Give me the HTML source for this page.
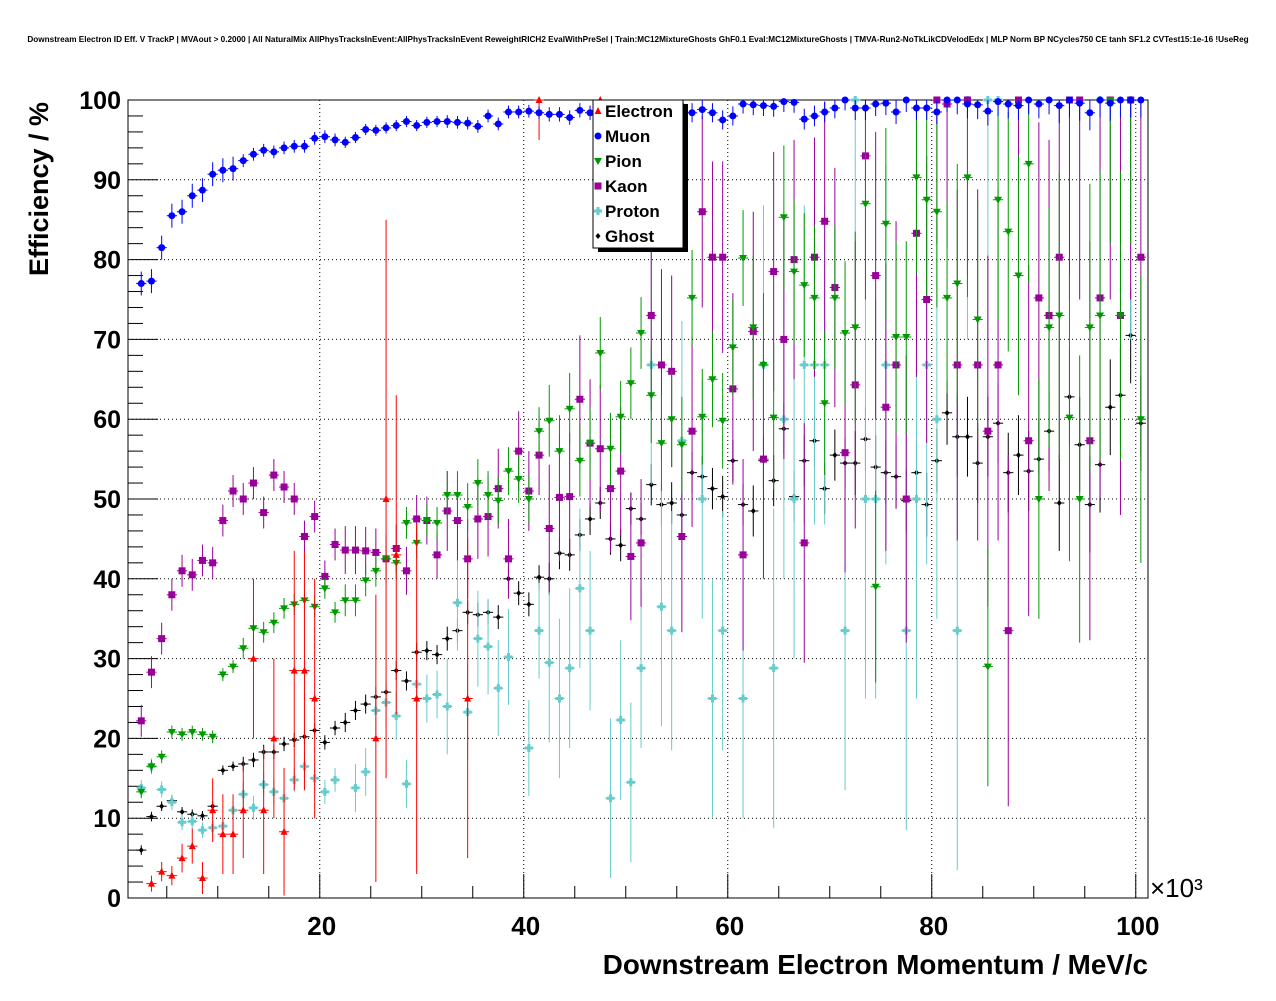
<!DOCTYPE html>
<html><head><meta charset="utf-8"><style>
body{margin:0;background:#fff;}
svg text{font-family:"Liberation Sans",sans-serif;font-weight:bold;}
</style></head><body>
<svg id="c" width="1276" height="996" xmlns="http://www.w3.org/2000/svg">
<rect width="1276" height="996" fill="#fff"/>
<text x="638" y="42" font-size="8.2" text-anchor="middle">Downstream Electron ID Eff. V TrackP | MVAout &gt; 0.2000 | All NaturalMix AllPhysTracksInEvent:AllPhysTracksInEvent ReweightRICH2 EvalWithPreSel | Train:MC12MixtureGhosts GhF0.1 Eval:MC12MixtureGhosts | TMVA-Run2-NoTkLikCDVelodEdx | MLP Norm BP NCycles750 CE tanh SF1.2 CVTest15:1e-16 !UseReg</text>
<g id="grid"></g>
<g id="axes"></g>
<g id="marks"></g>
<text x="48" y="189" font-size="27" text-anchor="middle" transform="rotate(-90 48 189)">Efficiency / %</text>
<text x="1148" y="974" font-size="27.8" text-anchor="end">Downstream Electron Momentum / MeV/c</text>
<text x="1150" y="897" font-size="26" style="font-weight:normal">×10³</text>
<g id="legend"></g>
</svg>
<script>
const xTicks=[20,40,60,80,100];
const yTicks=[0,10,20,30,40,50,60,70,80,90,100];
const binStart=2.5;
const muon=[77,77.3,81.5,85.5,86,88,88.7,90.7,91.2,91.4,92.4,93.2,93.7,93.5,94,94.2,94.2,95.2,95.4,95,94.7,95.3,96.3,96.2,96.5,96.8,97.3,96.8,97.2,97.3,97.3,97.2,97.1,96.7,98,97,98.5,98.5,98.6,98.4,98.2,98.2,97.8,98.7,98.4,98.4,98,98.5,98.3,98.5,99,99,99,99.2,98.4,98.8,98.4,97.5,98,99.5,99.4,99.3,99.2,99.8,99.7,97.6,98,98.5,99,100,99,99,99.5,99.6,98.5,100,99,99,98.5,100,100,99.5,99.4,98.6,99.8,99.5,99.3,100,99.5,100,99.3,100,99.6,98.4,100,99.6,100,100,100];
const electron=[null,1.8,3.3,2.8,5,6.5,2.5,11,8,8,11,30,11,20,8.3,28.5,28.5,25,null,null,null,null,null,20,50,43,null,25,null,null,null,null,25,null,null,null,null,null,null,100,null,null,null,null,null,100];
const electronErr=[0,1,1.2,1.2,1.8,2.2,2,4,5,5,6,10,8,10,8,15,15,15,0,0,0,0,0,18,35,20,0,22,0,0,0,0,20,0,0,0,0,0,0,5,0,0,0,0,0,5];
const ghost=[6,10.2,11.5,12.2,10.8,10.5,10.3,11.5,16,16.5,16.8,17.3,18.3,18.3,19.3,19.8,20.2,21,19.5,21.3,22,23.5,24.3,25.2,25.8,28.5,27.2,30.8,31,30.5,32.5,33.5,35.8,35.5,35.8,35.2,40,38.2,36.8,40.2,40,43.2,43,45.5,47.5,49.5,45,44.2,48.8,47.5,51.8,49.3,49.5,48,53.3,52.8,51.3,50.3,54.8,49.3,48.5,54.8,52.3,58.8,50.3,54.8,57.3,51.3,55.5,54.5,54.5,57.5,54,53.3,52.8,49.8,53.3,49.3,54.8,60.8,57.8,57.8,54.5,57.8,59.5,53.3,55.5,53.5,55,58.5,49.5,62.8,56.8,49.3,54.3,61.5,63,70.5,59.5];
const pion=[13.3,16.5,17.7,20.8,20.5,20.8,20.5,20.2,28,29,31.3,33.8,33.3,34.5,36.3,36.8,37.3,36.5,38.8,35.8,37.3,37.3,39.8,41,42.5,42,47,44.5,47.3,47,50.5,50.5,49,52,50.5,49.8,53.5,52.5,50,58.5,59.8,56,61.3,54.8,57,68.3,56.3,60.3,64.5,70.8,63,57,60,56.8,75.2,60.3,65,59.8,69,80.2,71.5,66.8,60.2,85.3,78.5,76.8,75.2,62,75.2,70.8,71.5,87,39,84.5,70.3,70.3,90.3,87.5,86,75.2,77,90.3,72.5,29,87.5,83.5,78,92,50,71.5,73,60.2,50,71.5,73,100,73,100,60];
const kaon=[22.2,28.3,32.5,38,41,40.5,42.3,42,47.3,51,50,52,48.3,53,51.5,50,45.3,47.8,40.3,44.3,43.6,43.6,43.5,43.3,42.5,43.8,41,47.5,47.3,43,48.5,47.3,42.5,47.5,47.8,51.3,42.5,56,51,55.5,46.3,50.2,50.3,62.5,57,56.3,51.3,53.5,42.8,44.5,73,66.8,66,45.3,58.5,86,80.3,80.3,63.8,43,71,55,78.5,70,80,44.5,80.3,84.8,76.5,55.8,64.3,93,78,61.5,66.8,50,83.3,75,100,99.5,66.8,100,66.8,58.5,66.8,33.5,100,57.3,75.2,73,80.3,100,100,57.3,75.2,100,73,100,80.3];
const proton=[13.8,16.5,13.6,12,9.5,9.6,8.5,8.8,9,11,13,11.3,14.2,13.3,12.5,14.8,16.5,15,13.3,14.8,null,13.8,15.8,23.5,24.5,22.8,14.3,26.8,25,25.5,24,37,23.3,32.5,31.5,26.3,30.2,null,18.8,33.5,29.5,25,28.8,38.8,33.5,null,12.5,22.3,14.5,28.8,66.8,36.5,33.5,57.3,null,50,25,33.5,null,25,null,66.8,28.8,60,50,66.8,66.8,66.8,null,33.5,100,50,50,66.8,null,33.5,50,66.8,60,null,33.5,100,null,100,100,null,null,null,null,null,null,null,null,null,100,null,null,100,null];
/* error half-widths per block of 10 bins */
const muonErrBlk=[1.5,0.8,0.7,0.8,0.9,1.2,1.3,1.5,1.8,2.2];
const ghostErrBlk=[0.6,0.9,1.2,1.5,2,2.6,3.2,4,5,6];
const pionErrBlk=[0.8,1.3,2,3,4.5,6,9,12,15,18];
const kaonErrBlk=[2,2,3,5,8,12,15,18,22,25];
const protonErrBlk=[1,1.5,3,6,10,15,20,25,30,30];

const X0=128,X1=1148,Y0=898,Y1=100,XMIN=1.2,XMAX=101.2;
const sx=v=>X0+(v-XMIN)/(XMAX-XMIN)*(X1-X0);
const sy=v=>Y0-(v/100)*(Y0-Y1);
const NS='http://www.w3.org/2000/svg';
function mk(t,a,p){const e=document.createElementNS(NS,t);for(const k in a)e.setAttribute(k,a[k]);p.appendChild(e);return e;}
const grid=document.getElementById('grid'),axes=document.getElementById('axes'),marks=document.getElementById('marks'),leg=document.getElementById('legend');
xTicks.forEach(t=>{const l=mk('line',{x1:sx(t),x2:sx(t),y1:Y1,y2:Y0,stroke:'#000','stroke-width':1,'stroke-dasharray':'1,3'},grid);


const tx=mk('text',{x:sx(t)+2,y:Y0+37,'font-size':26,'text-anchor':'middle'},axes);tx.textContent=t;

});
yTicks.forEach(t=>{if(t>0&&t<100){const l=mk('line',{x1:X0,x2:X1,y1:sy(t),y2:sy(t),stroke:'#000','stroke-width':1,'stroke-dasharray':'1,3'},grid);

}
const tx=mk('text',{x:X0-7,y:sy(t)+9,'font-size':25,'text-anchor':'end'},axes);tx.textContent=t;

});
mk('rect',{x:X0,y:Y1,width:X1-X0,height:Y0-Y1,fill:'none',stroke:'#000','stroke-width':1},axes);
for(let v=5;v<=100;v+=5){const maj=v%20==0;mk('line',{x1:sx(v),x2:sx(v),y1:Y0,y2:Y0-(maj?24:12),stroke:'#000'},axes);}
for(let v=2;v<100;v+=2){const maj=v%10==0;mk('line',{x1:X0,x2:X0+(maj?30:15),y1:sy(v),y2:sy(v),stroke:'#000'},axes);}
function marker(type,cx,cy,col,g){
 if(type=='tri')return mk('polygon',{points:`${cx},${cy-4} ${cx-3.5},${cy+3} ${cx+3.5},${cy+3}`,fill:col},g);
 if(type=='dtri')return mk('polygon',{points:`${cx},${cy+4} ${cx-4},${cy-3} ${cx+4},${cy-3}`,fill:col},g);
 if(type=='circ')return mk('circle',{cx:cx,cy:cy,r:3.5,fill:col},g);
 if(type=='sq')return mk('rect',{x:cx-3.5,y:cy-3.5,width:7,height:7,fill:col},g);
 if(type=='cross')return mk('path',{d:`M${cx-4} ${cy-1.5}h2.5v-2.5h3v2.5h2.5v3h-2.5v2.5h-3v-2.5h-2.5z`,fill:col},g);
 return mk('polygon',{points:`${cx},${cy-3} ${cx+2.5},${cy} ${cx},${cy+3} ${cx-2.5},${cy}`,fill:col},g);
}
function series(name,vals,errFn,col,type){
 const g=mk('g',{},marks);
 
 
 vals.forEach((v,i)=>{if(v==null)return;const x=binStart+i,e=errFn(i);
  const cx=sx(x),cy=sy(v);
  mk('line',{x1:sx(x-0.5),x2:sx(x+0.5),y1:cy,y2:cy,stroke:col,'stroke-width':1},g);
  mk('line',{x1:cx,x2:cx,y1:sy(Math.min(100,v+e)),y2:sy(Math.max(0,v-e)),stroke:col,'stroke-width':1},g);
  const m=marker(type,cx,cy,col,g);
  
  
 });
}
const blk=a=>i=>a[Math.min(9,Math.floor(i/10))];
series('ghost',ghost,blk(ghostErrBlk),'#000','diam');
series('proton',proton,blk(protonErrBlk),'#66cccc','cross');
series('kaon',kaon,blk(kaonErrBlk),'#990099','sq');
series('pion',pion,blk(pionErrBlk),'#009900','dtri');
series('electron',electron,i=>electronErr[i],'#ff0000','tri');
series('muon',muon,blk(muonErrBlk),'#0000ff','circ');
// legend
mk('rect',{x:598,y:104,width:90,height:148,fill:'#000'},leg);
const lr=mk('rect',{x:593,y:100,width:90,height:148,fill:'#fff',stroke:'#000'},leg);
const names=['Electron','Muon','Pion','Kaon','Proton','Ghost'];
const cols=['#ff0000','#0000ff','#009900','#990099','#66cccc','#000'];
const types=['tri','circ','dtri','sq','cross','diam'];
names.forEach((n,i)=>{const y=111+i*25;
 const m=marker(types[i],598,y,cols[i],leg);
 
 
 const t=mk('text',{x:605,y:y+6,'font-size':17},leg);t.textContent=n;
 
 });
</script>
</body></html>
